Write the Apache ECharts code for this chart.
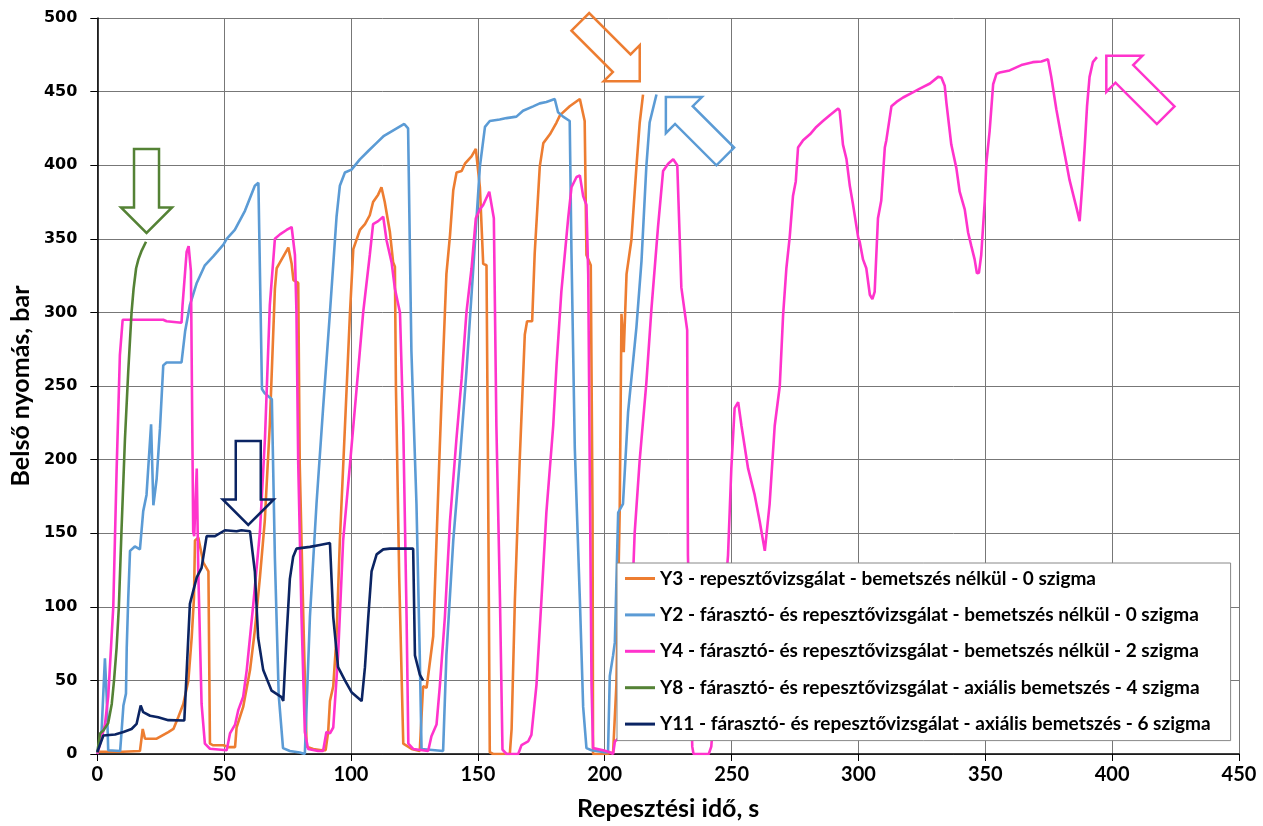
<!DOCTYPE html>
<html>
<head>
<meta charset="utf-8">
<script src="https://cdn.jsdelivr.net/npm/echarts@6/dist/echarts.min.js"></script>
<style>
  html, body { margin: 0; padding: 0; background: #fff; }
  #chart { width: 1263px; height: 826px; }
</style>
</head>
<body>
<div id="chart"></div>
<script>
// tick values
var xTicks = [0, 50, 100, 150, 200, 250, 300, 350, 400, 450];
var yTicks = [0, 50, 100, 150, 200, 250, 300, 350, 400, 450, 500];

var seriesNames = [
    'Y3 - repesztővizsgálat - bemetszés nélkül - 0 szigma',
    'Y2 - fárasztó- és repesztővizsgálat - bemetszés nélkül - 0 szigma',
    'Y4 - fárasztó- és repesztővizsgálat - bemetszés nélkül - 2 szigma',
    'Y8 - fárasztó- és repesztővizsgálat - axiális bemetszés - 4 szigma',
    'Y11 - fárasztó- és repesztővizsgálat - axiális bemetszés - 6 szigma'
];
var seriesColors = ['#ED7D31', '#5B9BD5', '#FF33CC', '#548235', '#0B2463'];

// [idő s, nyomás bar]
var y3 = [[0,1.5],[10,1.5],[16.8,2],[17.9,17],[18.8,10.4],[23.4,10.4],[28,14.9],[30,17],[31.9,25],[33.9,34],[35.9,50],[37.2,79],[38.1,106],
    [38.5,145],[39.8,147],[41.8,130],[43.8,124],[44.4,7],[45.7,5.9],[49.7,5.9],[51.6,4.7],[54.3,4.7],[54.9,18],[56.2,25],[57.5,32],[60.2,57],
    [62.1,84],[64.1,120],[66,158],[68,224],[70,316],[70.7,330],[72,334],[75.3,344],[76.6,333],[77.3,322],[79.2,320],[79.8,196],[81.2,93],
    [82.5,5],[85.1,3.4],[88.4,2.6],[90,2.6],[91,15],[91.7,36],[93,46],[94.3,80],[95.6,145],[97.6,222],[99.6,300],[100.9,343],[103.5,356],
    [105.5,360],[107.4,366],[108.7,375],[110.7,380],[112,385],[113.3,375],[113.9,374],[115.3,355],[116.6,334],[117.3,331],[117.7,250],
    [119,120],[120.6,7],[123.9,3.4],[127.1,2],[128.4,46],[129.8,45],[132.4,80],[133.7,145],[135,209],[136.3,269],[137.6,326],[139,352],
    [140.3,383],[141.6,395],[143.6,396],[144.9,401],[147.5,406],[149.2,411],[150.8,385],[152.1,333],[153.4,332],[154,194],[154.7,1.2],
    [156,0],[162.6,0],[163.3,17],[164.6,105],[166.5,200],[168.5,285],[169.4,294],[171.4,294],[172.4,340],[174.4,399],[175.8,415],
    [178.4,421],[181,429],[182.4,434],[186.2,440],[190.2,445],[192.1,430],[192.8,339],[194.5,332],[195.2,164],[195.4,0],[200.7,0],
    [203.3,1],[204.6,47],[205.9,164],[206.6,299],[207.5,273],[208.6,326],[210.5,349],[212.5,399],[213.8,429],[215.1,448]];

var y2 = [[0,0],[1.7,16],[3,65],[3.7,39],[4.3,2.5],[9,2],[9.6,16],[10.3,33],[11.3,41],[11.6,72],[12.2,106],[12.9,138],[14.8,141],
    [16.8,139],[18.1,165],[19.4,176],[21.2,224],[22.1,169],[23.4,187],[24.7,221],[26,264],[27.3,266],[33.2,266],[34.6,287],[36.5,305],
    [39.2,320],[42.4,332],[45.7,338],[49.7,346],[51,350],[54.2,356],[58.2,369],[62.1,386],[63.5,388],[64.9,248],[66,245],[68.8,241],
    [70,133],[71.5,40],[73.2,4],[75.9,2],[79.8,1],[81.8,0],[83.8,93],[86.4,170],[89,235],[91.7,300],[94.3,365],[95.6,386],[97.6,395],
    [100.2,397],[103.5,404],[107,410],[110,415],[113,420],[117,424],[121,428],[122.5,425],[123.8,274],[125.8,170],[127.1,67],[127.8,3.4],
    [136.3,2],[137.6,67],[140.3,145],[142.9,200],[145.5,260],[148.2,330],[150.8,399],[152.8,426],[154.7,430],[158.6,431],[161.3,432],
    [165.2,433],[167.8,437],[171.8,440],[174.4,442],[177,443],[180.3,445],[181.6,436],[183.6,433],[186.2,430],[186.9,340],[188.2,208],
    [190.2,105],[191.5,32],[192.8,4],[194.8,2.6],[200,1.2],[201.3,1.2],[202,53],[203.3,67],[204,76],[205.3,164],[207.2,170],[209.2,232],
    [211.2,267],[212.5,290],[214.5,335],[216.4,399],[217.7,429],[220.4,448]];

var y4 = [[0,0],[1.1,7],[3,20],[4.3,39],[5,60],[6.3,100],[7.6,192],[8.9,271],[10,295],[26,295],[27.3,294],[33.2,293],[33.6,305],
    [35.2,341],[36,345],[36.9,328],[37.8,151],[38.2,148],[39.2,194],[39.8,124],[41.1,34],[42.4,7],[44.4,3.6],[51,2.5],[52.3,14],[54.3,20],
    [55.6,30],[57.5,39],[58.9,57],[61.5,102],[64.1,151],[66.1,215],[68,305],[70,350],[72,353],[74.6,356],[76.6,358],[77.9,339],[78.5,300],
    [79.2,197],[80.5,93],[81.8,15],[83.1,3.4],[87,2],[89,2],[90.3,15],[91.7,14],[93,18],[94.9,67],[96.9,145],[99.6,197],[102.2,248],
    [104.8,300],[107.4,339],[108.7,360],[110.7,362],[112.7,365],[114,349],[116,334],[117.3,316],[119.3,300],[120.6,222],[121.9,93],
    [122.6,7],[124.5,3.4],[130.4,2],[131.7,12],[133.7,20],[135,46],[137,93],[139,158],[141.6,215],[143.6,255],[145.5,300],[147.5,330],
    [149.2,364],[150.8,370],[152.1,373],[154.5,382],[156.3,364],[157.3,223],[158.7,106],[159.7,3],[161.3,0],[165.9,0],[167.2,6],
    [169.8,8.5],[171.1,13],[173.1,47],[175.1,106],[177,164],[179.7,223],[181,264],[182.9,314],[185.6,364],[186.9,385],[188.9,392],
    [190.2,393],[191.5,379],[192.8,373],[193.5,326],[194.1,194],[194.8,47],[195.4,4],[199.4,2.6],[202,1.2],[203.3,0],[204,8.5],[206,11.5],
    [208.6,32],[210.5,91],[211.8,150],[213.8,200],[216.4,252],[218.4,302],[221,358],[223,396],[225,401],[227,404],[228.6,400],[230.2,317],
    [232.5,288],[232.8,135],[234.5,5],[235,0],[241,0],[242,5],[244,50],[247,100],[248.6,135],[249.9,194],[251.2,235],[252.6,239],
    [253.9,223],[256.5,194],[259.1,176],[261.1,158],[263.1,138],[265,170],[267,223],[269,250],[270.3,298],[271.6,330],[272.9,351],
    [274.2,379],[275.3,389],[276.2,412],[278.2,417],[280.9,421],[283.4,426],[286,430],[288.7,434],[292,438.5],[292.6,437],[293.9,414],
    [295.3,404],[296.6,386],[297.9,373],[299.9,351],[300.5,348],[301.8,336],[303.1,330],[304.5,312],[305.5,309],[306.4,314],[307.7,364],
    [309,376],[310.4,412],[311,417],[313,440],[315,443],[317.6,446],[320.9,449],[324.2,452],[328.2,455.5],[331.4,460],[332.7,459.6],
    [334,454],[334.7,442],[336.6,414],[338.6,398],[339.9,382],[341.9,370],[343.2,354.5],[344.5,345],[345.8,336],[346.7,326.5],[347.5,327],
    [348.4,339],[349.8,376],[350.4,401],[351.7,423],[353.1,455],[354.4,462],[355.7,463],[359.6,464.4],[364.2,468],[368.7,470],
    [372.1,470.4],[374.7,472],[375.3,472],[376,460],[378,438],[379.9,420],[381.9,402],[383.2,390],[384.5,381],[386.1,370],[387.2,362],
    [388.2,386],[389.2,413],[390.1,440],[391.1,460],[392.4,470],[394,473.4]];

var y8 = [[0,1],[1.1,14],[2.4,16],[4.3,21],[5.7,34],[6.6,50],[7.6,72],[8.5,100],[9.5,150],[10.9,214],[12.2,260],[13.5,300],[14.3,316],
    [15.3,330],[16.2,336],[17.5,342],[19.2,348]];

var y11 = [[0,1.4],[2.4,12.6],[7,13.3],[10.3,15],[13.5,17],[15.5,20.5],[17.1,33],[18.1,28.4],[20.8,26],[24,25],[28,23],[34.3,22.8],
    [36.5,102],[39.2,120],[41.1,126.5],[43.1,148],[46.4,148],[50.3,152],[54.9,151.3],[56.8,152],[60.2,151.3],[62.1,124],[63.4,79],
    [65.4,57],[68.7,43],[72.6,38.6],[73.3,36],[74.6,80],[75.9,119],[77.2,134],[78.5,139.5],[83.8,140.7],[87.7,142],[91.7,143.3],
    [92.3,143],[93,93],[94.9,59],[97.6,50],[100.2,42],[104.2,36],[105.5,59],[106.8,93],[108.1,124],[110.1,135.6],[112.7,139],
    [115.3,139.5],[124.5,139.5],[125.2,67],[127.1,54],[128.4,50]];

var seriesData = [y3, y2, y4, y8, y11];

// nyilak: hegy helye (idő, nyomás), irány fokban, szín index
var arrowTips = [[19.4, 354], [59.5, 155.6], [213.8, 457], [224.1, 446.3], [397.7, 474.3]];
var arrowAngles = [0, 0, -45, 135, 135];
var arrowColors = [3, 4, 0, 1, 2];

var chart = echarts.init(document.getElementById('chart'));

var series = [];
for (var i = 0; i < seriesData.length; i++) {
    series.push({
        name: seriesNames[i],
        type: 'line',
        data: seriesData[i],
        symbol: 'none',
        smooth: false,
        color: seriesColors[i],
        lineStyle: { width: 2.6, color: seriesColors[i] }
    });
}

var option = {
    animation: false,
    backgroundColor: '#fff',
    grid: { left: 97, right: 24, top: 18, bottom: 69 },
    legend: {
        orient: 'vertical',
        left: 617,
        top: 563,
        data: seriesNames,
        icon: 'rect',
        itemWidth: 30,
        itemHeight: 3,
        itemGap: 17.4,
        padding: [6, 20, 7, 8],
        backgroundColor: '#fff',
        borderColor: '#888',
        borderWidth: 1,
        borderRadius: 0,
        selectedMode: false,
        textStyle: { fontFamily: 'Lato', fontWeight: 'bold', fontSize: 19, color: '#000' }
    },
    xAxis: {
        type: 'value',
        min: 0, max: 450, interval: 50,
        name: 'Repesztési idő, s',
        nameLocation: 'middle',
        nameGap: 42,
        nameTextStyle: { fontFamily: 'Lato', fontWeight: 'bold', fontSize: 25, color: '#000' },
        axisLine: { show: true, lineStyle: { color: '#000', width: 1.5 } },
        axisTick: { show: true, length: 7, lineStyle: { color: '#000' } },
        axisLabel: { fontFamily: 'Lato', fontWeight: 'bold', fontSize: 20, color: '#000', margin: 11,
            formatter: function (v) { return xTicks.indexOf(v) >= 0 ? String(v) : ''; } },
        splitLine: { show: true, lineStyle: { color: '#777', width: 1 } }
    },
    yAxis: {
        type: 'value',
        min: 0, max: 500, interval: 50,
        name: 'Belső nyomás, bar',
        nameLocation: 'middle',
        nameGap: 62,
        nameTextStyle: { fontFamily: 'Lato', fontWeight: 'bold', fontSize: 25, color: '#000' },
        axisLine: { show: true, lineStyle: { color: '#000', width: 1.5 } },
        axisTick: { show: true, length: 7, lineStyle: { color: '#000' } },
        axisLabel: { fontFamily: 'DejaVu Sans', fontWeight: 'bold', fontSize: 16, color: '#000', margin: 20,
            formatter: function (v) { return yTicks.indexOf(v) >= 0 ? String(v) : ''; } },
        splitLine: { show: true, lineStyle: { color: '#777', width: 1 } }
    },
    series: series
};

chart.setOption(option);

// üres nyilak rajzolása a tengelyek skáláján keresztül
function arrowPoints(tip, angleDeg) {
    var shape = [[-12.5, -84], [12.5, -84], [12.5, -25.5], [25.5, -25.5], [0, 0], [-25.5, -25.5], [-12.5, -25.5]];
    var a = angleDeg * Math.PI / 180;
    var c = Math.cos(a), s = Math.sin(a);
    var p = chart.convertToPixel({ gridIndex: 0 }, tip);
    return shape.map(function (q) {
        return [p[0] + q[0] * c - q[1] * s, p[1] + q[0] * s + q[1] * c];
    });
}

var graphics = [];
for (var k = 0; k < arrowTips.length; k++) {
    graphics.push({
        type: 'polygon',
        shape: { points: arrowPoints(arrowTips[k], arrowAngles[k]) },
        style: { fill: 'none', stroke: seriesColors[arrowColors[k]], lineWidth: 2.5 },
        z: 10
    });
}
chart.setOption({ graphic: graphics });
</script>
</body>
</html>
